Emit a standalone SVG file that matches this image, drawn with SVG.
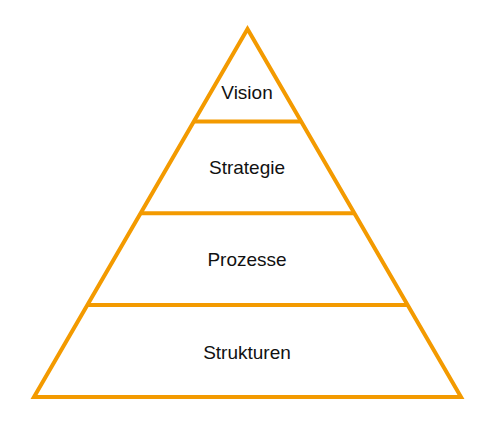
<svg xmlns="http://www.w3.org/2000/svg" width="498" height="437" viewBox="0 0 498 437">
<style>
.ln{stroke:#F39A00;stroke-width:4;fill:none;stroke-linejoin:miter}
.t{font-family:"Liberation Sans",Arial,sans-serif;font-size:19px;fill:#111;text-anchor:middle}
</style>
<rect width="498" height="437" fill="#fff"/>
<g id="pyramid">
<polygon class="ln" points="247.5,29 461,397 34,397"/>
</g>
<g id="connectors">
<line class="ln" x1="194" y1="121.5" x2="301" y2="121.5"/>
<line class="ln" x1="141" y1="213.3" x2="354" y2="213.3"/>
<line class="ln" x1="88" y1="305" x2="407" y2="305"/>
</g>
<g id="vision"><text class="t" x="247" y="98.5">Vision</text></g>
<g id="strategie"><text class="t" x="247" y="174">Strategie</text></g>
<g id="prozesse"><text class="t" x="247" y="266">Prozesse</text></g>
<g id="strukturen"><text class="t" x="247" y="358.5">Strukturen</text></g>
</svg>
